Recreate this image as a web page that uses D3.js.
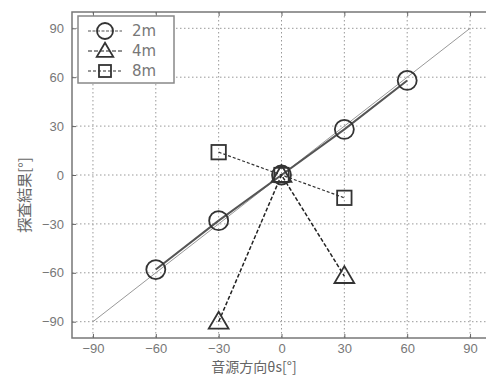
<!DOCTYPE html>
<html>
<head>
<meta charset="utf-8">
<script src="https://cdn.jsdelivr.net/npm/d3@7"></script>
<style>
	body { margin: 0; background: #fff; }
	svg { display: block; font-family: 'DejaVu Sans', sans-serif; }
</style>
</head>
<body>
<svg id="chart" width="486" height="378"></svg>
<script>
const ticks = [-90, -60, -30, 0, 30, 60, 90]
const refLine = [-90, 90]

const angles2m = [-60, -30, 0, 30, 60]
const result2m = [-58, -28, 0, 28, 58]
const angles4m = [-30, 0, 30]
const result4m = [-90, 0, -62]
const angles8m = [-30, 0, 30]
const result8m = [14, 0, -14]

const series = [
	{ name: '2m', xs: angles2m, ys: result2m, shape: 'circle', dash: null, color: '#555', width: 2 },
	{ name: '4m', xs: angles4m, ys: result4m, shape: 'triangle', dash: '4,2', color: '#222', width: 1.5 },
	{ name: '8m', xs: angles8m, ys: result8m, shape: 'square', dash: '3,2', color: '#333', width: 1.2 }
]

const svg = d3.select('#chart')

const x = d3.scaleLinear().domain([-100, 100]).range([72, 491])
const y = d3.scaleLinear().domain([-100, 100]).range([338, 12])

// grid
const grid = svg.append('g')
grid.selectAll('.gx')
	.data(ticks)
	.enter()
	.append('line')
	.attr('x1', d => x(d)).attr('x2', d => x(d))
	.attr('y1', y(100)).attr('y2', y(-100))
	.attr('stroke', '#999').attr('stroke-dasharray', '1.5,2.5')
grid.selectAll('.gy')
	.data(ticks)
	.enter()
	.append('line')
	.attr('y1', d => y(d)).attr('y2', d => y(d))
	.attr('x1', x(-100)).attr('x2', x(100))
	.attr('stroke', '#999').attr('stroke-dasharray', '1.5,2.5')

// frame + axes
svg.append('rect')
	.attr('x', x(-100)).attr('y', y(100))
	.attr('width', x(100) - x(-100)).attr('height', y(-100) - y(100))
	.attr('fill', 'none').attr('stroke', '#777').attr('stroke-width', 1.5)

svg.append('g')
	.attr('transform', `translate(0,${y(-100)})`)
	.call(d3.axisBottom(x).tickValues(ticks).tickSizeInner(-4).tickSizeOuter(0).tickPadding(6).tickFormat(d3.format('d')))
svg.append('g')
	.attr('transform', `translate(0,${y(100)})`)
	.call(d3.axisTop(x).tickValues(ticks).tickSizeInner(-4).tickSizeOuter(0).tickFormat(''))
svg.append('g')
	.attr('transform', `translate(${x(-100)},0)`)
	.call(d3.axisLeft(y).tickValues(ticks).tickSizeInner(-4).tickSizeOuter(0).tickPadding(8).tickFormat(d3.format('d')))

svg.selectAll('.domain').remove()
svg.selectAll('.tick line').attr('stroke', '#666')
svg.selectAll('.tick text')
	.attr('fill', '#777')
	.style('font-size', '13px')

// reference y = x
svg.append('line')
	.attr('x1', x(refLine[0])).attr('y1', y(refLine[0]))
	.attr('x2', x(refLine[1])).attr('y2', y(refLine[1]))
	.attr('stroke', '#999').attr('stroke-width', 1)

function drawMarker(g, shape, cx, cy, size) {
	if (shape === 'circle') {
		g.append('circle').attr('cx', cx).attr('cy', cy).attr('r', size)
	} else if (shape === 'square') {
		g.append('rect').attr('x', cx - size * 0.8).attr('y', cy - size * 0.8)
			.attr('width', size * 1.6).attr('height', size * 1.6)
	} else {
		const s = size * 1.1
		g.append('path').attr('d', `M${cx},${cy - s}L${cx + s},${cy + s * 0.7}L${cx - s},${cy + s * 0.7}Z`)
	}
}

const line = d3.line().x(d => x(d[0])).y(d => y(d[1]))

series.forEach(s => {
	const pts = s.xs.map((v, i) => [v, s.ys[i]])
	svg.append('path')
		.attr('d', line(pts))
		.attr('fill', 'none')
		.attr('stroke', s.color)
		.attr('stroke-width', s.width)
		.attr('stroke-dasharray', s.dash)
	const g = svg.append('g').attr('fill', 'none').attr('stroke', '#333').attr('stroke-width', 1.8)
	pts.forEach(p => drawMarker(g, s.shape, x(p[0]), y(p[1]), s.shape === 'circle' ? 9.5 : 9))
})

// legend
const legend = svg.append('g')
legend.append('rect')
	.attr('x', 78).attr('y', 16).attr('width', 96).attr('height', 67)
	.attr('fill', '#fff').attr('stroke', '#888').attr('stroke-width', 1.5)
series.forEach((s, i) => {
	const ly = 31 + i * 20
	legend.append('line')
		.attr('x1', 88).attr('x2', 122).attr('y1', ly).attr('y2', ly)
		.attr('stroke', s.color).attr('stroke-width', 1.2)
		.attr('stroke-dasharray', i === 0 ? '3,1.5' : s.dash)
	const g = legend.append('g').attr('fill', 'none').attr('stroke', '#333').attr('stroke-width', 1.8)
	drawMarker(g, s.shape, 105, ly, s.shape === 'circle' ? 8 : 7.5)
	legend.append('text')
		.attr('x', 132).attr('y', ly + 5)
		.attr('fill', '#777').style('font-size', '15px')
		.text(s.name)
})

// axis labels
svg.append('text')
	.attr('x', 254).attr('y', 372)
	.attr('text-anchor', 'middle')
	.attr('fill', '#666').style('font-size', '14px')
	.style('font-family', "'Noto Sans CJK JP', sans-serif")
	.text('音源方向θs[°]')
svg.append('text')
	.attr('transform', 'translate(30,195) rotate(-90)')
	.attr('text-anchor', 'middle')
	.attr('fill', '#666').style('font-size', '15px')
	.style('font-family', "'Noto Sans CJK JP', sans-serif")
	.text('探査結果[°]')
</script>
</body>
</html>
